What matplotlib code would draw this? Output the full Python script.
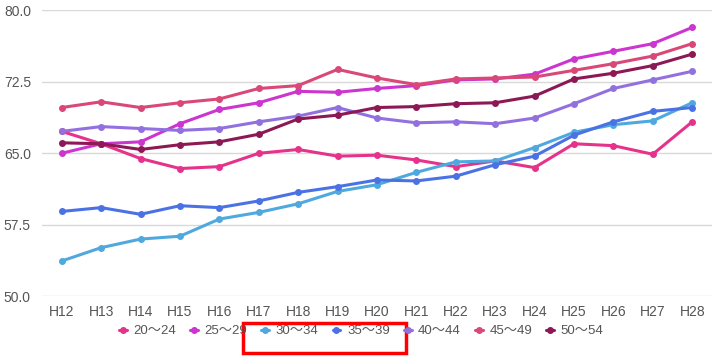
import matplotlib.pyplot as plt
from matplotlib.patches import Rectangle

plt.rcParams["font.family"] = ["Liberation Sans", "Noto Sans CJK JP", "DejaVu Sans"]

years = ["H12", "H13", "H14", "H15", "H16", "H17", "H18", "H19", "H20",
         "H21", "H22", "H23", "H24", "H25", "H26", "H27", "H28"]

age_20_24 = [67.3, 66.0, 64.45, 63.4, 63.6, 65.0, 65.4, 64.7, 64.8,
             64.3, 63.6, 64.2, 63.5, 66.0, 65.8, 64.9, 68.3]
age_25_29 = [65.0, 66.0, 66.2, 68.1, 69.6, 70.3, 71.5, 71.4, 71.8,
             72.1, 72.7, 72.8, 73.3, 74.9, 75.7, 76.5, 78.2]
age_30_34 = [53.7, 55.1, 56.0, 56.3, 58.1, 58.8, 59.7, 61.0, 61.7,
             63.0, 64.1, 64.2, 65.6, 67.2, 68.0, 68.4, 70.3]
age_35_39 = [58.9, 59.3, 58.6, 59.5, 59.3, 60.0, 60.9, 61.5, 62.2,
             62.1, 62.6, 63.8, 64.7, 66.9, 68.3, 69.4, 69.8]
age_40_44 = [67.3, 67.8, 67.6, 67.4, 67.6, 68.3, 68.9, 69.8, 68.7,
             68.2, 68.3, 68.1, 68.7, 70.2, 71.8, 72.7, 73.6]
age_45_49 = [69.8, 70.4, 69.8, 70.3, 70.7, 71.8, 72.1, 73.8, 72.9,
             72.2, 72.8, 72.9, 73.0, 73.7, 74.4, 75.2, 76.5]
age_50_54 = [66.1, 66.0, 65.4, 65.9, 66.2, 67.0, 68.6, 69.0, 69.8,
             69.9, 70.2, 70.3, 71.0, 72.8, 73.4, 74.2, 75.4]

series = [
    ("20〜24", age_20_24, "#e5338c"),
    ("25〜29", age_25_29, "#cc35cf"),
    ("30〜34", age_30_34, "#4fa9de"),
    ("35〜39", age_35_39, "#4a72e4"),
    ("40〜44", age_40_44, "#9270e0"),
    ("45〜49", age_45_49, "#d94877"),
    ("50〜54", age_50_54, "#8c1856"),
]

y_ticks = [50.0, 57.5, 65.0, 72.5, 80.0]

fig = plt.figure(figsize=(7.18, 3.59), dpi=100)
ax = fig.add_axes([0.0585, 0.1747, 0.933, 0.7966])

x = list(range(len(years)))
for label, vals, color in series:
    ax.plot(x, vals, color=color, linewidth=2.2, marker="o", markersize=4,
            label=label, solid_capstyle="round")

ax.set_xlim(-0.5, len(years) - 0.5)
ax.set_ylim(50, 80)
ax.set_yticks(y_ticks)
ax.set_yticklabels([f"{v:.1f}" for v in y_ticks])
ax.set_xticks(x)
ax.set_xticklabels(years)
ax.grid(axis="y", color="#d9d9d9", linewidth=1)
ax.set_axisbelow(True)
for s in ax.spines.values():
    s.set_visible(False)
ax.tick_params(axis="both", length=0, labelsize=10, colors="#555555", pad=6)
ax.tick_params(axis="y", pad=8)

handles, labels = ax.get_legend_handles_labels()
fig.legend(handles, labels, loc="center", bbox_to_anchor=(0.503, 0.077), ncol=7,
           frameon=False, fontsize=9.5, handlelength=0.6, handletextpad=0.5,
           columnspacing=1.05, labelcolor="#555555", markerscale=1.0)

# red highlight box around the 30-39 legend entries
fig.patches.append(Rectangle((243 / 718, 1 - 352.5 / 359), 163 / 718, 30 / 359,
                             transform=fig.transFigure, fill=False,
                             edgecolor="#ff0000", linewidth=2.5))

fig.savefig("out.png", dpi=100)
